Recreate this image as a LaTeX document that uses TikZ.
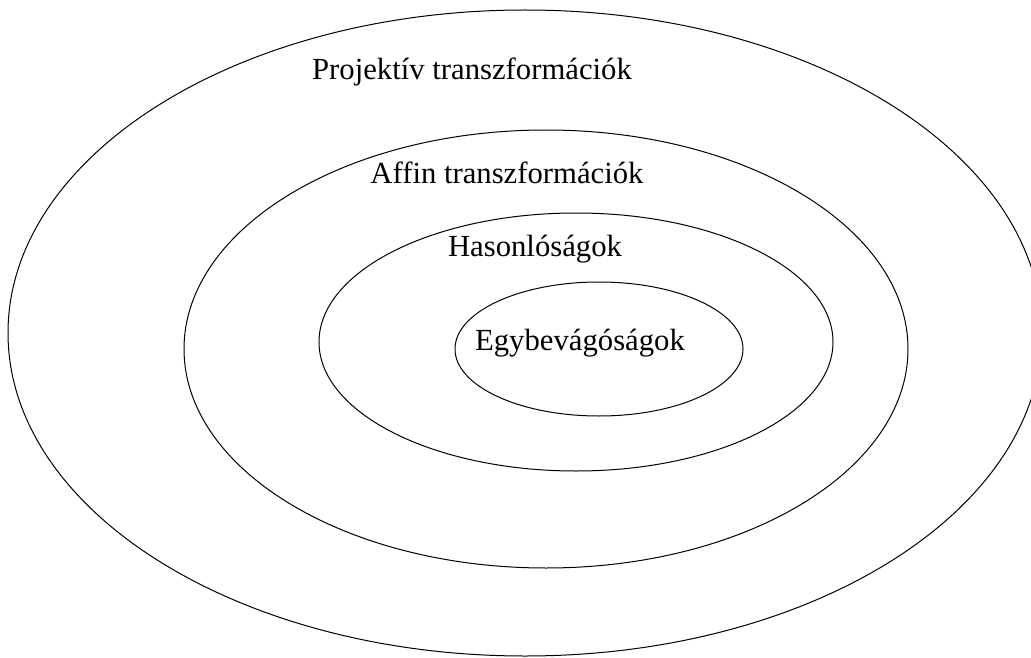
\documentclass[tikz,border=0pt]{standalone}
\usepackage{fontspec}
\setmainfont{Liberation Serif}
\begin{document}
\begin{tikzpicture}[x=1pt, y=-1pt, line width=1pt,
    setname/.style={anchor=base, inner sep=0pt, font=\fontsize{30.7}{36}\selectfont}]
    \useasboundingbox (0,0) rectangle (1031,658);

    % nested sets, outermost first
    \coordinate (proj) at (525,333);
    \coordinate (aff) at (546,349);
    \coordinate (has) at (576,342);
    \coordinate (egy) at (599,349);
    \draw (proj) ellipse [x radius=517, y radius=323];
    \draw (aff) ellipse [x radius=362, y radius=219];
    \draw (has) ellipse [x radius=257, y radius=129];
    \draw (egy) ellipse [x radius=144, y radius=67];

    \node[setname] (projtext) at (472,80) {Projektív transzformációk};
    \node[setname] (afftext) at (507,183) {Affin transzformációk};
    \node[setname] (hastext) at (535,256) {Hasonlóságok};
    \node[setname] (egytext) at (580,350) {Egybevágóságok};
\end{tikzpicture}
\end{document}
